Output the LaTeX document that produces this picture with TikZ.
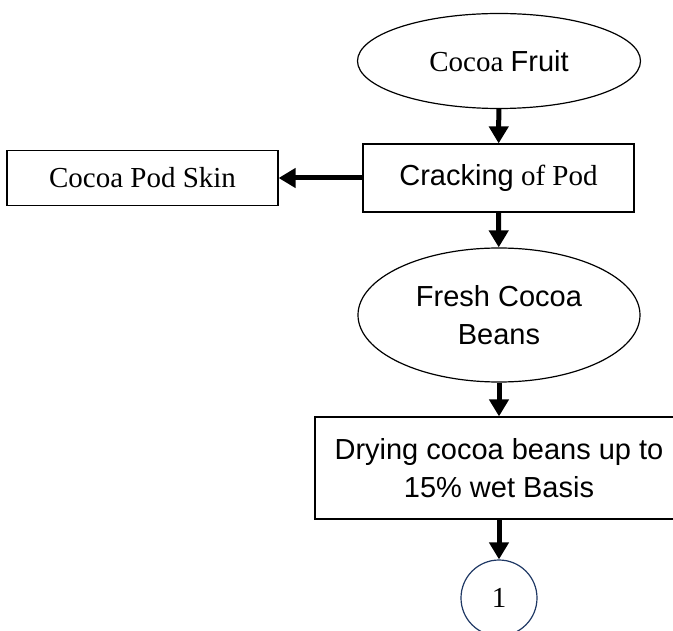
\documentclass[tikz,border=0pt]{standalone}
\usepackage{fontspec}
\setmainfont{Liberation Serif}
\setsansfont{Liberation Sans}
\usetikzlibrary{shapes.geometric,arrows.meta}
\definecolor{navy}{HTML}{1F3864}
\tikzset{
  serif/.style={font=\fontsize{29}{38}\selectfont},
  sans/.style={font=\sffamily\fontsize{29}{38}\selectfont},
  procbox/.style={draw, line width=1.2pt, rectangle, align=center, inner sep=0pt},
  termnode/.style={draw, line width=1.2pt, ellipse, align=center, inner sep=0pt},
  flow/.style={-{Triangle[length=17pt,width=19pt]}, line width=5pt},
}
\begin{document}
\begin{tikzpicture}[x=1pt, y=-1pt]
  \useasboundingbox (0,0) rectangle (673,631);
  \clip (0,0) rectangle (673,631);

  \node[termnode, serif, minimum width=283pt, minimum height=95pt] (A) at (499,61) {Cocoa \textsf{Fruit}};
  \node[procbox, serif, minimum width=271pt, minimum height=68pt] (B) at (498.5,178) {\textsf{Cracking} of Pod};
  \draw[flow] (A) -- (B);

  \node[procbox, serif, minimum width=271pt, minimum height=55pt] (C) at (142.5,178) {Cocoa Pod Skin};
  \draw[flow] (B) -- (C);

  \node[termnode, sans, minimum width=282pt, minimum height=134pt] (D) at (499,315) {Fresh Cocoa\\ Beans};
  \draw[flow] (B) -- (D);

  \node[procbox, sans, minimum width=368pt, minimum height=102pt] (E) at (499,468) {Drying cocoa beans up to\\ 15\% wet Basis};
  \draw[flow] (D) -- (E);

  \node[circle, draw=navy, line width=1.2pt, serif, minimum size=76pt] (F) at (499,598) {1};
  \draw[flow] (E) -- (F);

\end{tikzpicture}
\end{document}
